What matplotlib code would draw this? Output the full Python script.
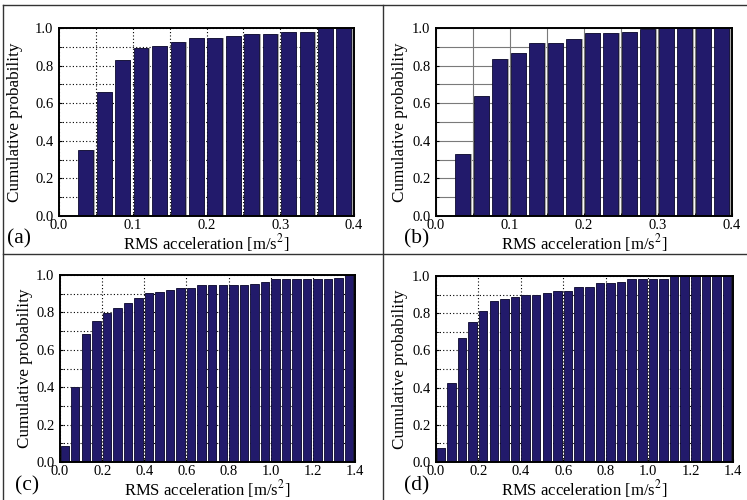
import numpy as np
import matplotlib
matplotlib.use('Agg')
import matplotlib.pyplot as plt
from matplotlib.ticker import MultipleLocator, FormatStrFormatter
from matplotlib.lines import Line2D

plt.rcParams['font.family'] = 'Liberation Serif'
plt.rcParams['mathtext.fontset'] = 'stix'

# cumulative probability per bin
bin_a = 0.025
cum_a = [0.0, 0.352, 0.661, 0.831, 0.893, 0.904, 0.925, 0.947, 0.947, 0.959,
         0.970, 0.970, 0.979, 0.979, 1.0, 1.0]
bin_b = 0.025
cum_b = [0.0, 0.329, 0.636, 0.835, 0.867, 0.920, 0.920, 0.941, 0.972, 0.972,
         0.980, 0.995, 1.0, 1.0, 1.0, 1.0]
bin_c = 0.05
cum_c = [0.083, 0.402, 0.685, 0.752, 0.796, 0.825, 0.848, 0.876, 0.903, 0.910,
         0.922, 0.933, 0.933, 0.945, 0.945, 0.945, 0.945, 0.945, 0.954, 0.965,
         0.977, 0.977, 0.977, 0.977, 0.977, 0.977, 0.984, 1.0]
bin_d = 0.05
cum_d = [0.075, 0.423, 0.664, 0.751, 0.813, 0.865, 0.875, 0.886, 0.899, 0.899,
         0.909, 0.920, 0.920, 0.940, 0.940, 0.961, 0.961, 0.970, 0.982, 0.982,
         0.982, 0.982, 1.0, 1.0, 1.0, 1.0, 1.0, 1.0]

W, H = 747, 500
fig = plt.figure(figsize=(W/100, H/100), dpi=100)

def rect(l, r, t, b):
    return [l/W, 1 - b/H, (r - l)/W, (b - t)/H]

# table lines around the panels
for xs, ys in [([3, 747], [5, 5]), ([3, 3], [5, 500]), ([383, 383], [5, 500]), ([3, 747], [254, 254])]:
    fig.add_artist(Line2D([x/W for x in xs], [1 - y/H for y in ys], color='#333333', lw=1.0))

navy = '#221a6b'

def panel(box, vals, bw, xmax, xmaj, xgrid, gstyle, letter, let_xy, ylab_x, xlab_y):
    ax = fig.add_axes(rect(*box))
    edges = np.arange(len(vals)) * bw
    ax.bar(edges + 0.13*bw, vals, width=0.8*bw, align='edge', color='#a9a9a9', lw=0, zorder=2)
    ax.bar(edges + 0.05*bw, vals, width=0.8*bw, align='edge', color=navy,
           edgecolor='#0d0a30', lw=0.6, zorder=3)
    ax.set_xlim(0, xmax)
    ax.set_ylim(0, 1.0)
    ax.xaxis.set_major_locator(MultipleLocator(xmaj))
    ax.xaxis.set_minor_locator(MultipleLocator(xgrid))
    ax.yaxis.set_major_locator(MultipleLocator(0.2))
    ax.yaxis.set_minor_locator(MultipleLocator(0.1))
    if gstyle == 'solid':
        ax.grid(True, which='both', color='#7a7a7a', lw=0.8, ls='-', zorder=1)
    else:
        ax.grid(True, which='both', color='black', lw=0.8, ls=(0, (1, 2)), zorder=1)
    ax.set_axisbelow(True)
    ax.tick_params(which='both', direction='in', length=2, labelsize=10.5, pad=2)
    ax.tick_params(axis='y', pad=4)
    ax.xaxis.set_major_formatter(FormatStrFormatter('%.1f'))
    ax.yaxis.set_major_formatter(FormatStrFormatter('%.1f'))
    fig.canvas.draw()
    xl = ax.get_xticklabels()
    xl[0].set_ha('left')
    xl[-1].set_ha('right')
    yl = ax.get_yticklabels()
    yl[0].set_va('baseline')
    yl[-1].set_va('top')
    for s in ax.spines.values():
        s.set_linewidth(1.4)
        s.set_zorder(5)
    ax.set_ylabel('Cumulative probability', fontsize=12.3, va='center')
    ax.yaxis.set_label_coords((ylab_x - box[0]) / (box[1] - box[0]), 0.5)
    ax.set_xlabel('RMS acceleration [m/s$^{2}$]', fontsize=12, va='center')
    ax.xaxis.set_label_coords(0.5, -(xlab_y - box[3]) / (box[3] - box[2]))
    fig.text(let_xy[0]/W, 1 - let_xy[1]/H, letter, fontsize=15.5, ha='left', va='center')
    return ax

panel((59, 354, 28, 216), cum_a, bin_a, 0.4, 0.1, 0.05, 'dot', '(a)', (7, 239), 15, 243)
panel((436, 732, 28, 216), cum_b, bin_b, 0.4, 0.1, 0.05, 'solid', '(b)', (404, 239), 400, 243)
panel((60, 355, 275, 462), cum_c, bin_c, 1.4, 0.2, 0.2, 'dot', '(c)', (15, 486), 25, 489)
panel((436, 733, 276, 462), cum_d, bin_d, 1.4, 0.2, 0.2, 'dot', '(d)', (404, 486), 400, 489)

fig.savefig('out.png', dpi=100)
